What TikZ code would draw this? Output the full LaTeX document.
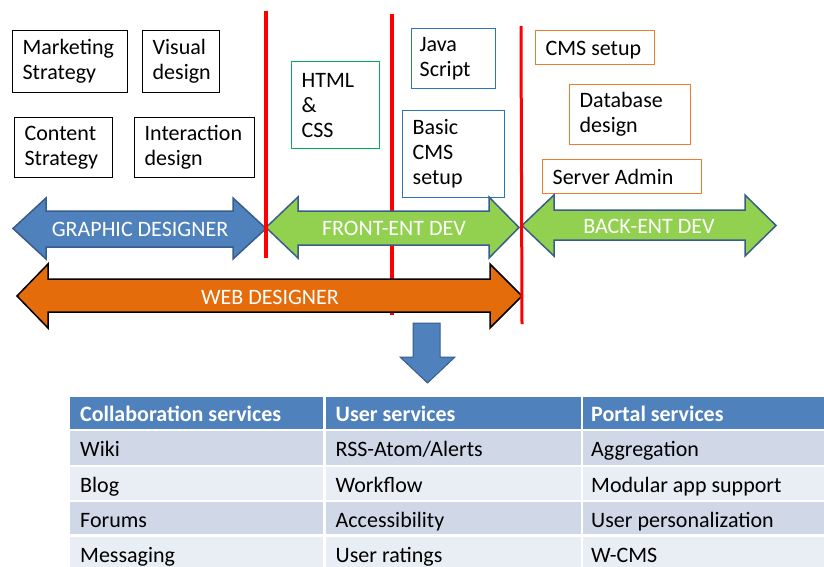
\documentclass[tikz,border=0pt]{standalone}
\usepackage{fontspec}
\setmainfont{Carlito}
\definecolor{gdblue}{HTML}{4F81BD}
\definecolor{gdedge}{HTML}{385D8A}
\definecolor{fegreen}{HTML}{92D050}
\definecolor{wdorange}{HTML}{E46C0A}
\definecolor{boxgreen}{HTML}{00B050}
\definecolor{boxblue}{HTML}{2E75B6}
\definecolor{boxorange}{HTML}{ED7D31}
\definecolor{rowdark}{HTML}{D0D8E8}
\definecolor{rowlight}{HTML}{E9EDF4}
\definecolor{divider}{HTML}{FF0000}
\begin{document}
\begin{tikzpicture}[x=1pt,y=-1pt,
  every node/.style={font=\fontsize{22}{25}\selectfont},
  skillbox/.style={draw, line width=1.3pt, fill=white, align=flush left,
    inner xsep=10pt, inner ysep=0pt, anchor=north west},
  oneline/.style={text height=19pt, text depth=3pt},
  rolearrow/.style={line width=1.5pt, line join=miter, draw=gdedge},
  rolelabel/.style={text=white, inner sep=0pt},
  redline/.style={draw=divider, line width=#1},
  cell/.style={anchor=north west, align=flush left, inner xsep=10pt, inner ysep=0pt,
    text height=20pt, text depth=2pt},
  headcell/.style={cell, fill=gdblue, text=white, font=\fontsize{22}{25}\selectfont\bfseries},
]
\useasboundingbox (0,0) rectangle (824,567);

% divider between front-end and back-end skills (under the arrows)
\coordinate (d2top) at (392,14);
\coordinate (d2bot) at (392,315);
\draw[redline=4pt] (d2top) -- (d2bot);

% skill boxes
\node[skillbox, draw=black, text width=95pt, minimum height=62pt] (mkt) at (12,30) {Marketing\\Strategy};
\node[skillbox, draw=black, text width=57pt, minimum height=62pt] (vis) at (142,30) {Visual\\design};
\node[skillbox, draw=black, text width=78pt, minimum height=60pt] (cnt) at (14,117) {Content\\Strategy};
\node[skillbox, draw=black, text width=100pt, minimum height=60pt] (int) at (134,117) {Interaction\\design};
\node[skillbox, draw=boxgreen, text width=68pt, minimum height=87pt] (html) at (291,61) {HTML\\\&\\CSS};
\node[skillbox, draw=boxblue, minimum height=60pt, inner xsep=8pt, text width=68pt] (java) at (411,28) {Java\\Script};
\node[skillbox, draw=boxblue, text width=82pt, minimum height=87pt] (basic) at (402,110) {Basic\\CMS\\setup};
\node[skillbox, oneline, draw=boxorange, text width=99pt, minimum height=34pt] (cms) at (535,30) {CMS setup};
\node[skillbox, draw=boxorange, text width=101pt, minimum height=60pt] (db) at (569,84) {Database\\design};
\node[skillbox, oneline, draw=boxorange, text width=139pt, minimum height=34pt] (srv) at (542,159) {Server Admin};

% role arrows
\draw[rolearrow, fill=gdblue] (13,228.5) -- (46,198) -- (46,211) -- (233,211) -- (233,198)
  -- (266,228.5) -- (233,259) -- (233,247) -- (46,247) -- (46,259) -- cycle;
\node[rolelabel] (gd) at (140,229) {GRAPHIC DESIGNER};

\draw[rolearrow, fill=fegreen] (266,227.5) -- (298,197) -- (298,211) -- (489,211) -- (489,197)
  -- (519,227.5) -- (489,258) -- (489,245) -- (298,245) -- (298,258) -- cycle;
\node[rolelabel] (fe) at (394,228) {FRONT-ENT DEV};

\draw[rolearrow, fill=fegreen] (522,225.5) -- (554,195) -- (554,210) -- (745,210) -- (745,195)
  -- (776,225.5) -- (745,256) -- (745,240) -- (554,240) -- (554,256) -- cycle;
\node[rolelabel] (be) at (649,226) {BACK-ENT DEV};

\draw[rolearrow, draw=black, fill=wdorange] (17,296) -- (48,264) -- (48,279) -- (490,279) -- (490,264)
  -- (522,296) -- (490,328) -- (490,312) -- (48,312) -- (48,328) -- cycle;
\node[rolelabel] (wd) at (270,297) {WEB DESIGNER};

% dividers drawn over the arrow tips
\coordinate (d1top) at (266,11);
\coordinate (d1bot) at (266,258);
\draw[redline=4.5pt] (d1top) -- (d1bot);
\coordinate (d3top) at (521,26);
\coordinate (d3bot) at (522,324);
\draw[redline=3pt] (d3top) -- (d3bot);

% arrow down to the services table
\draw[draw=gdedge, line width=1pt, fill=gdblue] (413,323) -- (440,323) -- (440,357) -- (455,357)
  -- (427.5,383) -- (400,357) -- (413,357) -- cycle;

% services table
\node[headcell, text width=233pt, minimum height=31.5pt] (h1) at (70,397) {Collaboration services};
\node[headcell, text width=235pt, minimum height=31.5pt] (h2) at (325.5,397) {User services};
\node[headcell, minimum height=31.5pt, inner xsep=8pt, text width=225pt] (h3) at (583,397) {Portal services};

\node[cell, fill=rowdark, text width=233pt, minimum height=33.5pt] (a1) at (70,431) {Wiki};
\node[cell, fill=rowdark, text width=235pt, minimum height=33.5pt] (b1) at (325.5,431) {RSS-Atom/Alerts};
\node[cell, fill=rowdark, text width=225pt, inner xsep=8pt, minimum height=33.5pt] (c1) at (583,431) {Aggregation};

\node[cell, fill=rowlight, text width=233pt, minimum height=33pt] (a2) at (70,467) {Blog};
\node[cell, fill=rowlight, text width=235pt, minimum height=33pt] (b2) at (325.5,467) {Workflow};
\node[cell, fill=rowlight, text width=225pt, inner xsep=8pt, minimum height=33pt] (c2) at (583,467) {Modular app support};

\node[cell, fill=rowdark, text width=233pt, minimum height=32pt] (a3) at (70,502) {Forums};
\node[cell, fill=rowdark, text width=235pt, minimum height=32pt] (b3) at (325.5,502) {Accessibility};
\node[cell, fill=rowdark, text width=225pt, inner xsep=8pt, minimum height=32pt] (c3) at (583,502) {User personalization};

\node[cell, fill=rowlight, text width=233pt, minimum height=33pt] (a4) at (70,536.5) {Messaging};
\node[cell, fill=rowlight, text width=235pt, minimum height=33pt] (b4) at (325.5,536.5) {User ratings};
\node[cell, fill=rowlight, text width=225pt, inner xsep=8pt, minimum height=33pt] (c4) at (583,536.5) {W-CMS};
\end{tikzpicture}
\end{document}
